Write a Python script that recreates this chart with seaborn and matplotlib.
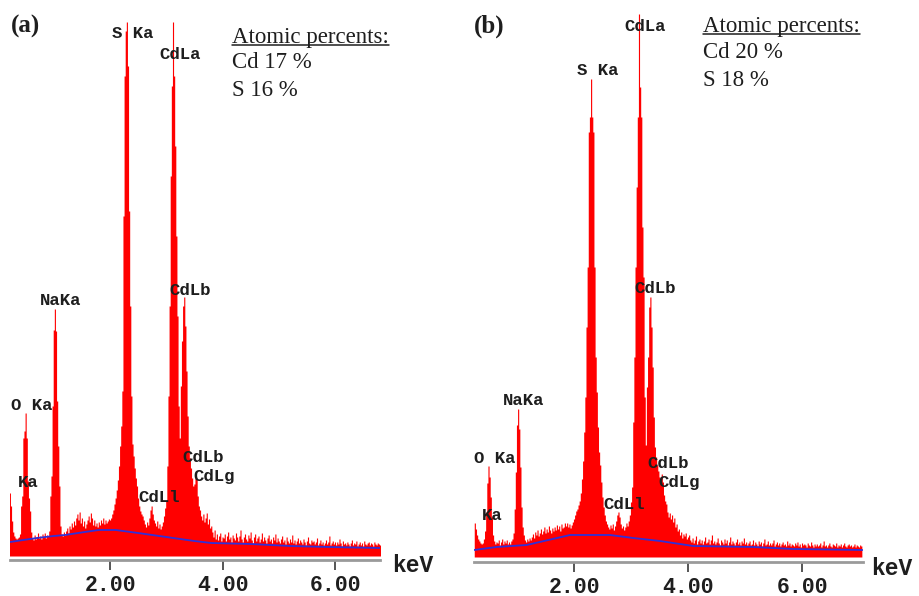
import numpy as np
import pandas as pd
import matplotlib
matplotlib.use("Agg")
import matplotlib.pyplot as plt
import seaborn as sns
from matplotlib.lines import Line2D

sns.set_theme(style="white")
plt.rcParams["font.family"] = ["Liberation Mono", "DejaVu Sans"]

# ---- EDS spectra: counts per 0.02 keV channel ----
CHANNEL_KEV = 0.02

start_kev_a = 0.22
counts_a = [
    63, 50, 35, 24, 20, 18, 17, 18, 19, 22,
    50, 60, 118, 125, 143, 118, 75, 58, 45, 24,
    18, 16, 21, 17, 19, 23, 18, 20, 17, 22,
    19, 23, 18, 21, 20, 25, 60, 80, 150, 226,
    247, 225, 155, 110, 70, 30, 22, 20, 24, 21,
    25, 28, 23, 30, 27, 33, 29, 35, 31, 38,
    42, 36, 44, 33, 38, 30, 35, 28, 32, 36,
    40, 34, 43, 38, 31, 36, 30, 33, 29, 34,
    31, 36, 33, 38, 32, 36, 33, 35, 37, 36,
    38, 42, 46, 52, 58, 66, 76, 90, 110, 130,
    165, 340, 480, 525, 534, 490, 345, 250, 160, 112,
    100, 88, 78, 70, 58, 50, 45, 42, 40, 36,
    32, 29, 34, 31, 38, 46, 50, 42, 36, 33,
    30, 35, 28, 32, 27, 30, 34, 40, 48, 55,
    90, 160, 250, 380, 470, 534, 480, 410, 320, 240,
    150, 118, 170, 215, 250, 259, 230, 185, 140, 110,
    98, 88, 78, 70, 72, 78, 77, 60, 50, 46,
    40, 36, 42, 34, 38, 43, 32, 37, 28, 30,
    24, 19, 26, 17, 22, 16, 20, 23, 15, 19,
    18, 22, 15, 20, 24, 17, 19, 14, 21, 18,
    16, 23, 19, 15, 20, 26, 17, 14, 19, 22,
    17, 15, 21, 18, 24, 16, 13, 19, 22, 15,
    18, 20, 14, 17, 23, 15, 19, 16, 13, 18,
    21, 15, 17, 13, 19, 16, 22, 14, 18, 15,
    13, 17, 20, 14, 16, 12, 19, 15, 13, 17,
    14, 21, 13, 16, 12, 15, 18, 13, 16, 14,
    12, 17, 14, 11, 15, 19, 13, 12, 16, 14,
    15, 12, 14, 18, 11, 13, 16, 12, 14, 11,
    13, 16, 12, 14, 20, 11, 13, 15, 12, 14,
    11, 14, 12, 17, 13, 10, 15, 12, 13, 11,
    14, 12, 10, 13, 16, 11, 13, 12, 15, 10,
    12, 14, 11, 13, 10, 15, 12, 11, 13, 14,
    11, 13, 12, 10, 14, 12, 11, 13, 12, 11,
]

start_kev_b = 0.26
counts_b = [
    34, 28, 22, 18, 16, 14, 13, 14, 18, 26,
    45, 74, 91, 80, 60, 40, 22, 16, 13, 15,
    14, 17, 12, 15, 18, 13, 16, 14, 17, 13,
    15, 13, 16, 18, 24, 48, 85, 132, 148, 128,
    90, 50, 30, 22, 17, 15, 18, 16, 19, 17,
    20, 23, 19, 25, 22, 27, 21, 24, 28, 23,
    26, 30, 24, 28, 25, 31, 27, 24, 29, 26,
    30, 27, 32, 28, 31, 26, 33, 29, 30, 34,
    31, 34, 30, 33, 29, 32, 35, 38, 42, 46,
    48, 52, 56, 64, 78, 96, 125, 160, 230, 290,
    425, 440, 478, 440, 425, 290, 200, 165, 130, 105,
    92, 75, 60, 50, 42, 36, 33, 30, 28, 32,
    29, 33, 27, 31, 36, 42, 45, 40, 33, 29,
    31, 27, 30, 34, 31, 36, 42, 55, 70, 135,
    200, 290, 370, 440, 543, 470, 440, 330, 280, 160,
    112, 170, 200, 250, 260, 230, 190, 140, 110, 100,
    92, 86, 80, 76, 83, 75, 62, 56, 53, 45,
    40, 44, 38, 42, 35, 39, 30, 33, 26, 28,
    22, 25, 19, 23, 21, 24, 18, 20, 22, 17,
    15, 19, 14, 17, 21, 13, 16, 18, 14, 17,
    13, 16, 20, 14, 15, 18, 13, 17, 22, 14,
    16, 13, 15, 19, 14, 12, 17, 15, 13, 18,
    14, 17, 12, 15, 20, 13, 16, 14, 12, 15,
    18, 13, 15, 12, 16, 14, 19, 13, 15, 12,
    14, 16, 12, 13, 17, 12, 15, 13, 11, 16,
    13, 15, 11, 14, 18, 12, 13, 16, 12, 14,
    12, 14, 17, 11, 13, 15, 12, 14, 11, 13,
    15, 12, 13, 11, 16, 12, 14, 11, 13, 12,
    11, 14, 12, 15, 11, 13, 10, 14, 12, 13,
    12, 10, 14, 12, 11, 15, 12, 10, 13, 11,
    13, 11, 12, 14, 10, 12, 16, 11, 12, 10,
    12, 14, 11, 10, 13, 12, 11, 14, 10, 12,
    11, 13, 10, 12, 14, 11, 10, 12, 13, 11,
    12, 10, 11, 13, 10, 12, 11, 10, 12, 11,
]

# ---- fitted continuum (background) ----
bg_kev_a = [0.22, 0.70, 1.00, 1.20, 1.55, 1.80, 2.10, 2.50, 3.00, 3.50, 3.80, 4.50, 5.20, 5.90, 6.80]
bg_counts_a = [14, 18, 20, 21, 24, 26, 26, 23, 19, 15, 13, 12, 10, 9, 8]

bg_kev_b = [0.25, 0.64, 1.17, 1.93, 2.63, 3.04, 3.51, 4.09, 5.14, 5.84, 7.06]
bg_counts_b = [7, 10, 12, 22, 22, 19, 16, 11, 10, 8, 7]

# ---- peak labels ----
peak_names_a = ["S Ka", "CdLa", "CdLb", "NaKa", "O Ka", "Ka", "CdLb", "CdLg", "CdLl"]
peak_label_kev_a = [2.036, 2.87, 3.05, 0.756, 0.24, 0.364, 3.28, 3.476, 2.498]
peak_label_counts_a = [518, 497, 261, 251, 146, 69, 94, 75, 54]

peak_names_b = ["CdLa", "S Ka", "CdLb", "NaKa", "O Ka", "Ka", "CdLb", "CdLg", "CdLl"]
peak_label_kev_b = [2.877, 2.053, 3.053, 0.754, 0.246, 0.386, 3.28, 3.474, 2.509]
peak_label_counts_b = [526, 482, 264, 152, 94, 37, 89, 70, 48]

tick_kev = [2.0, 4.0, 6.0]
tick_labels = ["2.00", "4.00", "6.00"]

panel_tags = ["(a)", "(b)"]
composition_a = ["Cd 17 %", "S 16 %"]
composition_b = ["Cd 20 %", "S 18 %"]

W, H = 919, 596
fig = plt.figure(figsize=(W / 100, H / 100), dpi=100)
fig.patch.set_facecolor("white")

RED = "#ff0000"
BLUE = "#3030d8"
INK = "#1e1e1e"


def draw_spectrum(ax, start, counts, bg_kev, bg_counts, xlim, ylim,
                  names, lab_kev, lab_counts):
    n = len(counts)
    spec = pd.DataFrame({
        "kev": start + CHANNEL_KEV * np.arange(n),
        "counts": np.asarray(counts, dtype=float),
    })
    edges = start - CHANNEL_KEV / 2 + CHANNEL_KEV * np.arange(n + 1)
    sns.histplot(data=spec, x="kev", weights="counts", bins=list(edges),
                 element="step", fill=True, color=RED, alpha=1.0,
                 linewidth=0, ax=ax)
    bg = pd.DataFrame({"kev": bg_kev, "counts": bg_counts})
    sns.lineplot(data=bg, x="kev", y="counts", color=BLUE, linewidth=1.3,
                 ax=ax)
    ax.set_xlim(*xlim)
    ax.set_ylim(*ylim)
    ax.set_xlabel("")
    ax.set_ylabel("")
    ax.set_facecolor("none")
    for side in ("left", "top", "right"):
        ax.spines[side].set_visible(False)
    ax.spines["bottom"].set_color("#9a9a9a")
    ax.spines["bottom"].set_linewidth(2.0)
    ax.set_xticks(tick_kev)
    ax.set_xticklabels(tick_labels, fontweight="bold", fontsize=15.5,
                       family="Liberation Mono", color=INK)
    ax.tick_params(axis="x", bottom=True, direction="out", length=7,
                   width=1.4, color="#555555", pad=3.5)
    ax.tick_params(axis="y", left=False, labelleft=False)
    for name, ek, ec in zip(names, lab_kev, lab_counts):
        ax.text(ek, ec, name, ha="left", va="baseline", fontsize=12.5,
                fontweight="bold", family="Liberation Mono", color=INK,
                zorder=5)


ax_a = fig.add_axes([10 / W, (H - 560) / H, 370 / W, (560 - 8) / H])
draw_spectrum(ax_a, start_kev_a, counts_a, bg_kev_a, bg_counts_a,
              (0.222, 6.80), (-4, 548),
              peak_names_a, peak_label_kev_a, peak_label_counts_a)

ax_b = fig.add_axes([474 / W, (H - 562) / H, 389 / W, (562 - 8) / H])
draw_spectrum(ax_b, start_kev_b, counts_b, bg_kev_b, bg_counts_b,
              (0.2456, 7.07), (-5, 549),
              peak_names_b, peak_label_kev_b, peak_label_counts_b)


def fx(px):
    return px / W


def fy(py):
    return 1 - py / H


# unit labels on the energy axes
fig.text(fx(392), fy(572), "keV", ha="left", va="baseline", fontsize=16.5,
         fontweight="bold", family="Liberation Mono", color=INK)
fig.text(fx(871), fy(575), "keV", ha="left", va="baseline", fontsize=16.5,
         fontweight="bold", family="Liberation Mono", color=INK)

# panel tags
fig.text(fx(11), fy(33), panel_tags[0], ha="left", va="baseline", fontsize=18,
         fontweight="bold", family="Liberation Serif", color=INK)
fig.text(fx(474), fy(33), panel_tags[1], ha="left", va="baseline", fontsize=18,
         fontweight="bold", family="Liberation Serif", color=INK)

# composition boxes
renderer = fig.canvas.get_renderer()


def composition(x, y_head, y_lines, lines):
    head = fig.text(fx(x), fy(y_head), "Atomic percents:", ha="left",
                    va="baseline", fontsize=16.5, family="Liberation Serif",
                    color=INK)
    bb = head.get_window_extent(renderer)
    x0, x1 = bb.x0 / W, bb.x1 / W
    fig.add_artist(Line2D([x0, x1], [fy(y_head + 2)] * 2,
                          transform=fig.transFigure, color=INK, lw=1.1))
    for yy, txt in zip(y_lines, lines):
        fig.text(fx(x), fy(yy), txt, ha="left", va="baseline", fontsize=16.5,
                 family="Liberation Serif", color=INK)


composition(232, 42.5, [68, 95.5], composition_a)
composition(703, 32, [58, 86], composition_b)

fig.savefig("out.png", dpi=100)
